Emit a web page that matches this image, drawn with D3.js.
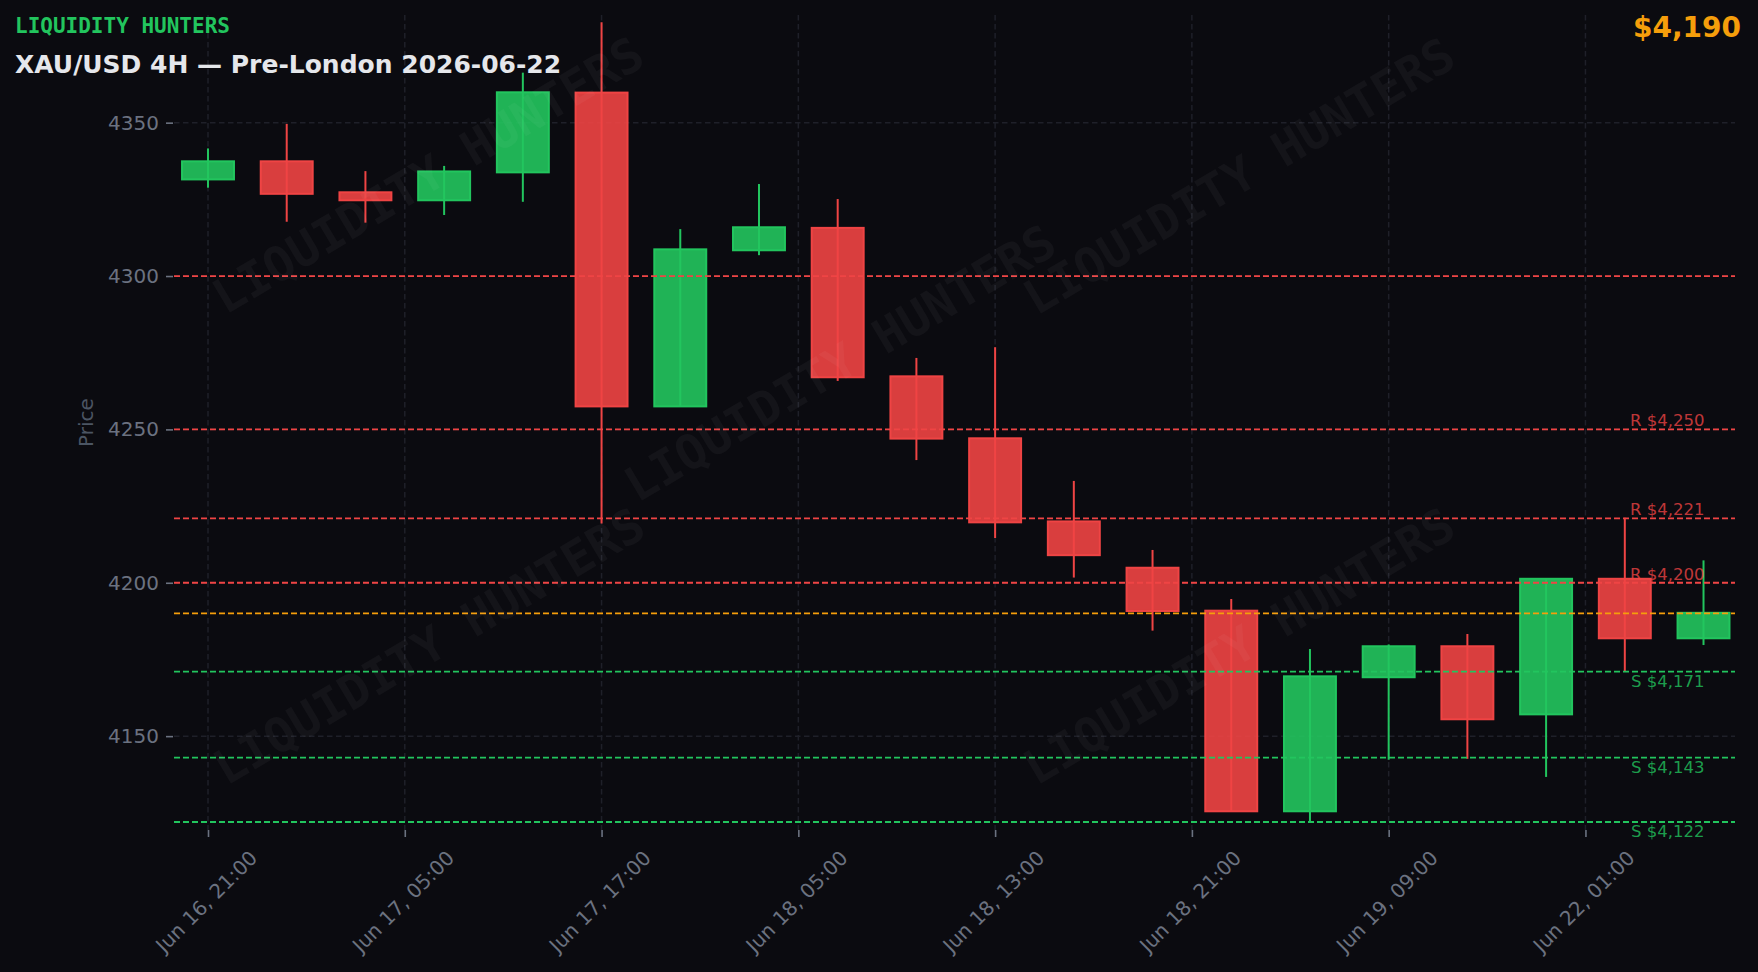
<!DOCTYPE html>
<html>
<head>
<meta charset="utf-8">
<script src="https://cdn.jsdelivr.net/npm/d3@7"></script>
<style>
  body { margin: 0; background: #0b0b10; }
  svg { display: block; }
</style>
</head>
<body>
<svg id="chartSvg" width="1758" height="972"></svg>
<script>
// Candle data (one entry per candle, oldest first)
const openPrices  = [4331.5, 4337.4, 4327.3, 4324.7, 4333.8, 4359.8, 4257.5, 4308.4, 4315.7, 4267.3, 4247.1, 4220.0, 4204.9, 4190.9, 4125.5, 4169.2, 4179.3, 4157.1, 4201.3, 4181.9];
const highPrices  = [4341.6, 4349.6, 4334.2, 4335.9, 4366.3, 4382.7, 4315.3, 4330.0, 4325.1, 4273.3, 4276.8, 4233.2, 4210.7, 4194.7, 4178.4, 4179.9, 4183.3, 4201.3, 4221.2, 4207.3];
const lowPrices   = [4328.8, 4317.7, 4317.4, 4319.9, 4324.2, 4219.3, 4257.4, 4306.8, 4265.8, 4240.0, 4214.6, 4201.7, 4184.4, 4125.5, 4122.1, 4142.3, 4142.6, 4136.7, 4171.0, 4179.7];
const closePrices = [4337.4, 4326.8, 4324.7, 4334.1, 4359.9, 4257.5, 4308.7, 4315.9, 4267.0, 4247.0, 4219.7, 4209.0, 4190.8, 4125.5, 4169.5, 4179.3, 4155.5, 4201.3, 4181.9, 4190.2];

// X ticks sit between candles, labels come from the candle times
const xTickPositions = [0, 2.5, 5, 7.5, 10, 12.5, 15, 17.5];
const xTickLabels = ["Jun 16, 21:00", "Jun 17, 05:00", "Jun 17, 17:00", "Jun 18, 05:00", "Jun 18, 13:00", "Jun 18, 21:00", "Jun 19, 09:00", "Jun 22, 01:00"];
const yTickValues = [4150, 4200, 4250, 4300, 4350];

// Key levels: resistance above, support below, and the current price
const resistanceLevels = [4300, 4250, 4221, 4200];
const resistanceLabeled = [false, true, true, true];
const supportLevels = [4171, 4143, 4122];
const currentPrice = 4190;

const titleText = "XAU/USD 4H \u2014 Pre-London 2026-06-22";
const brandText = "LIQUIDITY HUNTERS";
// watermark centres (pixels on the page)
const watermarkSpots = [[428, 175], [840, 363], [1239, 176], [429, 646], [1239, 646]];

const colors = {
  bg: "#0b0b10",
  up: "#22c55e",
  down: "#ef4444",
  current: "#f59e0b",
  grid: "#1f2029",
  tick: "#6b7280",
  axisLabel: "#4b5563",
  title: "#e5e7eb"
};

const svg = d3.select("#chartSvg");
const margin = { left: 174, right: 1735, top: 15, bottom: 830 };

svg.append("rect").attr("width", 1758).attr("height", 972).attr("fill", colors.bg);

// Scales: candles are placed by index, prices linear
const x = d3.scaleLinear().domain([-0.432, 19.4]).range([margin.left, margin.right]);
const y = d3.scaleLinear().domain([4119.4, 4385.1]).range([margin.bottom, margin.top]);
const step = x(1) - x(0);

// Grid lines
const gridG = svg.append("g");
gridG.selectAll(".vgrid").data(xTickPositions).join("line")
  .attr("x1", d => x(d)).attr("x2", d => x(d))
  .attr("y1", margin.top).attr("y2", margin.bottom)
  .attr("stroke", colors.grid).attr("stroke-width", 1.5).attr("stroke-dasharray", "5.5,3.5");
gridG.selectAll(".hgrid").data(yTickValues).join("line")
  .attr("x1", margin.left).attr("x2", margin.right)
  .attr("y1", d => y(d)).attr("y2", d => y(d))
  .attr("stroke", colors.grid).attr("stroke-width", 1.5).attr("stroke-dasharray", "5.5,3.5");

// Axes (no domain line, only ticks and labels)
const yAxisG = svg.append("g").attr("transform", `translate(${margin.left - 1},0)`)
  .call(d3.axisLeft(y).tickValues(yTickValues).tickSize(7).tickPadding(7).tickFormat(d3.format("d")));
yAxisG.select(".domain").remove();
yAxisG.selectAll("line").attr("stroke", colors.tick).attr("stroke-width", 1.6);
yAxisG.selectAll("text").attr("fill", colors.tick)
  .style("font-family", "DejaVu Sans").style("font-size", "20px");

const xAxisG = svg.append("g").attr("transform", `translate(0,${margin.bottom})`)
  .call(d3.axisBottom(x).tickValues(xTickPositions).tickSize(7).tickFormat((d, i) => xTickLabels[i]));
xAxisG.select(".domain").remove();
xAxisG.selectAll("line").attr("stroke", colors.tick).attr("stroke-width", 1.6);
xAxisG.selectAll("text")
  .attr("fill", colors.tick)
  .style("font-family", "DejaVu Sans").style("font-size", "20px")
  .attr("text-anchor", "middle").attr("y", 0).attr("dy", "0.35em")
  .attr("transform", function() {
    // keep the rotated box centred on the tick, its top just under the tick mark
    const len = this.getComputedTextLength();
    const off = 16 + (len + 23.3) * 0.3536;
    return `translate(-2,${off}) rotate(-45)`;
  });

svg.append("text")
  .attr("transform", `translate(86,${(margin.top + margin.bottom) / 2}) rotate(-90)`)
  .attr("text-anchor", "middle").attr("dy", "0.35em")
  .attr("fill", colors.axisLabel)
  .style("font-family", "DejaVu Sans").style("font-size", "20px")
  .text("Price");

// Candles: wick first, body on top
const candleData = openPrices.map((o, i) => ({
  i: i, o: o, h: highPrices[i], l: lowPrices[i], c: closePrices[i]
}));
const bodyW = step * 0.66;
const candleG = svg.append("g");
candleG.selectAll(".wick").data(candleData).join("line")
  .attr("x1", d => x(d.i)).attr("x2", d => x(d.i))
  .attr("y1", d => y(d.h)).attr("y2", d => y(d.l))
  .attr("stroke", d => d.c >= d.o ? colors.up : colors.down)
  .attr("stroke-width", 2);
candleG.selectAll(".body").data(candleData).join("rect")
  .attr("x", d => x(d.i) - bodyW / 2)
  .attr("width", bodyW)
  .attr("y", d => y(Math.max(d.o, d.c)))
  .attr("height", d => Math.max(1, y(Math.min(d.o, d.c)) - y(Math.max(d.o, d.c))))
  .attr("fill", d => d.c >= d.o ? colors.up : colors.down)
  .attr("fill-opacity", 0.9)
  .attr("stroke", d => d.c >= d.o ? colors.up : colors.down)
  .attr("stroke-width", 2);

// Key level lines and their labels
const levelData = resistanceLevels.map((v, i) => ({ v: v, kind: "R", labeled: resistanceLabeled[i], color: colors.down }))
  .concat(supportLevels.map(v => ({ v: v, kind: "S", labeled: true, color: colors.up })))
  .concat([{ v: currentPrice, kind: "", labeled: false, color: colors.current }]);

const levelG = svg.append("g");
levelG.selectAll("line").data(levelData).join("line")
  .attr("x1", margin.left).attr("x2", margin.right)
  .attr("y1", d => y(d.v)).attr("y2", d => y(d.v))
  .attr("stroke", d => d.color).attr("stroke-width", 1.8)
  .attr("stroke-dasharray", "6,3");

const priceFmt = d3.format(",");
levelG.selectAll("text").data(levelData.filter(d => d.labeled)).join("text")
  .attr("x", x(19) + 1)
  .attr("y", d => d.kind === "R" ? y(d.v) - 3 : y(d.v) + 15)
  .attr("text-anchor", "end")
  .attr("fill", d => d.color).attr("fill-opacity", 0.8)
  .style("font-family", "DejaVu Sans").style("font-size", "16.5px")
  .text(d => `${d.kind} $${priceFmt(d.v)}`);

// Faint brand watermark over the plot
svg.append("g").selectAll("text").data(watermarkSpots).join("text")
  .attr("transform", d => `translate(${d[0]},${d[1]}) rotate(-30.8)`)
  .attr("text-anchor", "middle").attr("dy", "0.35em")
  .attr("fill", "#ffffff").attr("fill-opacity", 0.04)
  .style("font-family", "DejaVu Sans Mono").style("font-weight", "bold").style("font-size", "48px")
  .text(brandText);

// Header texts
svg.append("text").attr("x", 15).attr("y", 33)
  .attr("fill", colors.up)
  .style("font-family", "DejaVu Sans Mono").style("font-weight", "bold").style("font-size", "21px")
  .text(brandText);
svg.append("text").attr("x", 15).attr("y", 73)
  .attr("fill", colors.title)
  .style("font-family", "DejaVu Sans").style("font-weight", "bold").style("font-size", "25px")
  .text(titleText);
svg.append("text").attr("x", 1741).attr("y", 37)
  .attr("text-anchor", "end")
  .attr("fill", colors.current)
  .style("font-family", "DejaVu Sans").style("font-weight", "bold").style("font-size", "28px")
  .text(`$${priceFmt(currentPrice)}`);
</script>
</body>
</html>
